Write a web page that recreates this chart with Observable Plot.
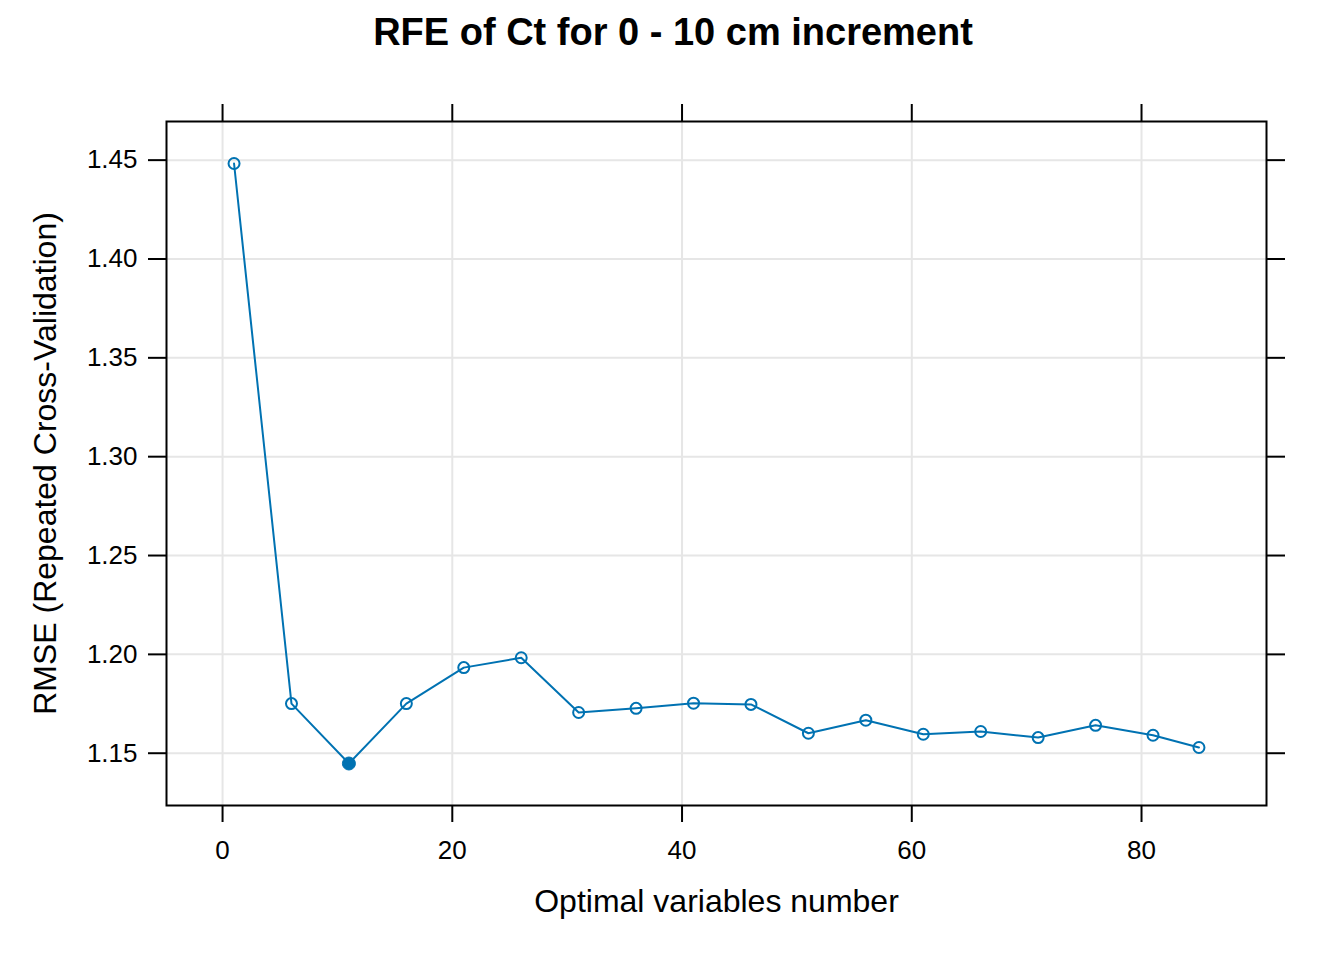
<!DOCTYPE html>
<html>
<head>
<meta charset="utf-8">
<script src="https://cdn.jsdelivr.net/npm/d3@7"></script>
<script src="https://cdn.jsdelivr.net/npm/@observablehq/plot@0.6"></script>
<style>
  html, body { margin: 0; padding: 0; background: #fff; }
  #chart svg { display: block; }
</style>
</head>
<body>
<div id="chart"></div>
<script>
const variables = [1, 6, 11, 16, 21, 26, 31, 36, 41, 46, 51, 56, 61, 66, 71, 76, 81, 85];
const rmse = [1.4483, 1.1751, 1.1448, 1.1751, 1.1933, 1.1983, 1.1706, 1.1727, 1.1753, 1.1747,
              1.1601, 1.1667, 1.1596, 1.1610, 1.1579, 1.1641, 1.1591, 1.1529];
const optimal = 11;
const xTicks = [0, 20, 40, 60, 80];
const yTicks = [1.15, 1.20, 1.25, 1.30, 1.35, 1.40, 1.45];
const title = "RFE of Ct for 0 - 10 cm increment";
const xLabel = "Optimal variables number";
const yLabel = "RMSE (Repeated Cross-Validation)";

const data = variables.map((v, i) => ({x: v, y: rmse[i]}));
const pad = (ext) => { const r = ext[1] - ext[0]; return [ext[0] - 0.07 * r, ext[1] + 0.07 * r]; };
const xDom = pad(d3.extent(variables));
const yDom = pad(d3.extent(rmse));

const col = "#0072B2";
const font = "'Liberation Sans', Arial, Helvetica, sans-serif";

const chart = Plot.plot({
  width: 1344,
  height: 960,
  marginLeft: 166,
  marginRight: 78,
  marginTop: 121,
  marginBottom: 155,
  style: {fontFamily: font, background: "#fff", color: "#000"},
  x: {domain: xDom, ticks: xTicks},
  y: {domain: yDom, ticks: yTicks},
  marks: [
    Plot.gridX(xTicks, {stroke: "#e6e6e6", strokeOpacity: 1, strokeWidth: 2}),
    Plot.gridY(yTicks, {stroke: "#e6e6e6", strokeOpacity: 1, strokeWidth: 2}),
    Plot.axisX(xTicks, {anchor: "bottom", tickSize: 17, tickPadding: 18, fontSize: 26, label: null, strokeWidth: 2, stroke: "#000"}),
    Plot.axisX(xTicks, {anchor: "top", tickSize: 18, tickFormat: () => "", label: null, strokeWidth: 2, stroke: "#000"}),
    Plot.axisY(yTicks, {anchor: "left", tickSize: 18, tickPadding: 11, fontSize: 26, tickFormat: d3.format(".2f"), label: null, strokeWidth: 2, stroke: "#000"}),
    Plot.axisY(yTicks, {anchor: "right", tickSize: 18, tickFormat: () => "", label: null, strokeWidth: 2, stroke: "#000"}),
    Plot.line(data, {x: "x", y: "y", stroke: col, strokeWidth: 2}),
    Plot.dot(data.filter(d => d.x !== optimal), {x: "x", y: "y", r: 5.5, stroke: col, strokeWidth: 2, fill: "none"}),
    Plot.dot(data.filter(d => d.x === optimal), {x: "x", y: "y", r: 6.5, fill: col, stroke: col, strokeWidth: 1}),
    Plot.frame({stroke: "#000", strokeWidth: 2}),
    Plot.text([title], {frameAnchor: "top", dy: -89, dx: -43.5, text: d => d, fontSize: 38, fontWeight: "bold", lineAnchor: "middle", fill: "#000"}),
    Plot.text([xLabel], {frameAnchor: "bottom", dy: 96, text: d => d, fontSize: 32, lineAnchor: "middle", fill: "#000"}),
    Plot.text([yLabel], {frameAnchor: "left", dx: -121, text: d => d, fontSize: 32, rotate: -90, textAnchor: "middle", lineAnchor: "middle", fill: "#000"})
  ]
});
document.getElementById("chart").appendChild(chart);
</script>
</body>
</html>
